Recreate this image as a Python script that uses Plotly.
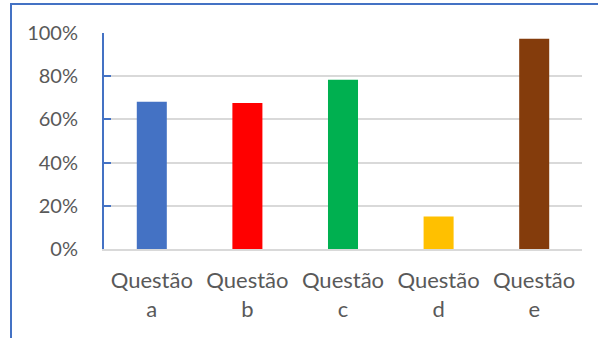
import plotly.graph_objects as go

categories = ["Questão a", "Questão b", "Questão c", "Questão d", "Questão e"]
tick_labels = ["Questão<br>a", "Questão<br>b", "Questão<br>c", "Questão<br>d", "Questão<br>e"]
values = [0.682, 0.676, 0.784, 0.150, 0.973]
colors = ["#4472C4", "#FF0000", "#00B050", "#FFC000", "#843C0C"]

W, H = 598, 338
L, R, T, B = 104, 16, 33, 89
pw, ph = W - L - R, H - T - B

fig = go.Figure()
fig.add_trace(go.Bar(x=categories, y=values, marker=dict(color=colors, line=dict(width=0)),
                     width=0.314, showlegend=False))

fig.update_layout(
    width=W, height=H,
    margin=dict(l=L, r=R, t=T, b=B, pad=0),
    paper_bgcolor="white", plot_bgcolor="white",
    font=dict(family="Lato", color="#595959", size=20),
    xaxis=dict(tickmode="array", tickvals=categories, ticktext=tick_labels,
               showline=True, linecolor="#D9D9D9", linewidth=2, ticks="",
               showgrid=False, ticklabelstandoff=11, tickfont=dict(size=22)),
    yaxis=dict(range=[0, 1], tickvals=[0, 0.2, 0.4, 0.6, 0.8, 1.0], tickformat=".0%",
               showline=True, linecolor="#4472C4", linewidth=2,
               ticks="inside", ticklen=7, tickwidth=2, tickcolor="#4472C4",
               showgrid=True, gridcolor="#D9D9D9", gridwidth=2, zeroline=False,
               ticklabelstandoff=20, tickfont=dict(size=20)),
    shapes=[dict(type="rect", xref="paper", yref="paper",
                 x0=(11 - L) / pw, x1=(W + 20 - L) / pw,
                 y0=-(B + 20) / ph, y1=(H - B - 4) / ph,
                 line=dict(color="#4472C4", width=2), fillcolor="rgba(0,0,0,0)", layer="below")],
)

fig.write_html("out.html")
